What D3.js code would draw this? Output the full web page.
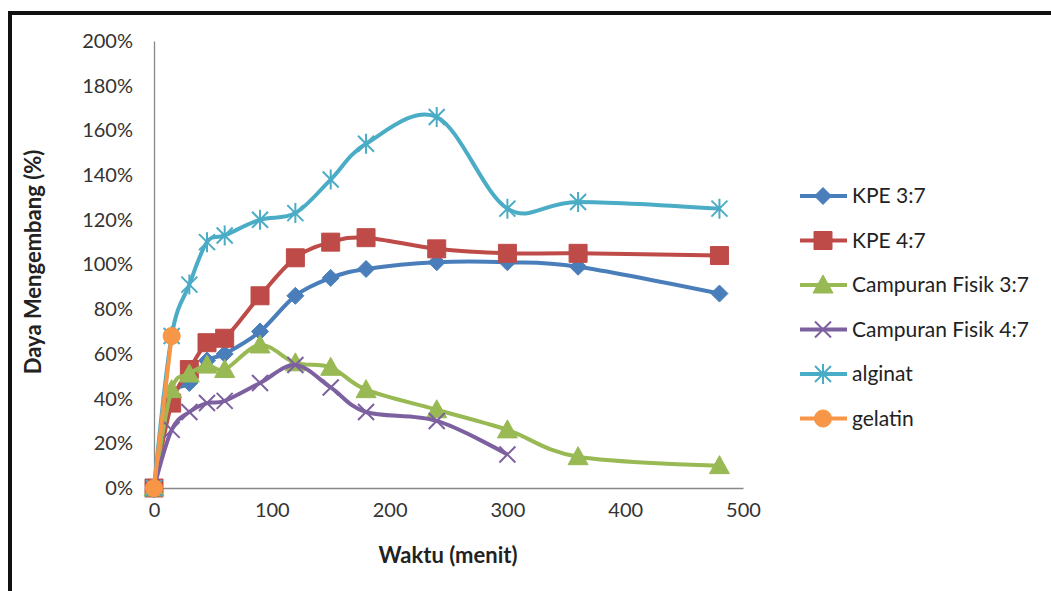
<!DOCTYPE html>
<html>
<head>
<meta charset="utf-8">
<script src="https://cdn.jsdelivr.net/npm/d3@7"></script>
<style>
  body { margin: 0; background: #fff; }
  svg { display: block; font-family: Lato, "Liberation Sans", sans-serif; }
</style>
</head>
<body>
<svg id="chart" width="1051" height="591"></svg>
<script>
// data
var times = [0, 15, 30, 45, 60, 90, 120, 150, 180, 240, 300, 360, 480];
var kpe37 = [0, 0.40, 0.47, 0.57, 0.60, 0.70, 0.86, 0.94, 0.98, 1.01, 1.01, 0.99, 0.87];
var kpe47 = [0, 0.38, 0.53, 0.65, 0.67, 0.86, 1.03, 1.10, 1.12, 1.07, 1.05, 1.05, 1.04];
var cf37 = [0, 0.44, 0.51, 0.55, 0.53, 0.64, 0.56, 0.54, 0.44, 0.35, 0.26, 0.14, 0.10];
var cf47 = [0, 0.26, 0.34, 0.38, 0.39, 0.47, 0.55, 0.45, 0.34, 0.30, 0.15];
var alginat = [0, 0.68, 0.91, 1.10, 1.13, 1.20, 1.23, 1.38, 1.54, 1.66, 1.25, 1.28, 1.25];
var gelatin = [0, 0.68];
var xTicks = [0, 100, 200, 300, 400, 500];
var yTicks = [0, 0.2, 0.4, 0.6, 0.8, 1.0, 1.2, 1.4, 1.6, 1.8, 2.0];

var series = [
  { name: "KPE 3:7", values: kpe37, color: "#4A7EBB", marker: "diamond" },
  { name: "KPE 4:7", values: kpe47, color: "#BE4B48", marker: "square" },
  { name: "Campuran Fisik 3:7", values: cf37, color: "#98B954", marker: "triangle" },
  { name: "Campuran Fisik 4:7", values: cf47, color: "#7D60A0", marker: "cross" },
  { name: "alginat", values: alginat, color: "#4BACC6", marker: "star" },
  { name: "gelatin", values: gelatin, color: "#F79646", marker: "circle" }
];

var svg = d3.select("#chart");

var x = d3.scaleLinear().domain([0, 500]).range([154, 743]);
var y = d3.scaleLinear().domain([0, 2]).range([488, 41]);

// frame
svg.append("path")
  .attr("d", "M10,591 L10,13 L1051,13")
  .attr("fill", "none")
  .attr("stroke", "#111")
  .attr("stroke-width", 4);

// axes
var xAxis = svg.append("g")
  .attr("transform", "translate(0," + y(0) + ")")
  .call(d3.axisBottom(x).tickValues(xTicks).tickSize(0).tickPadding(15));
var yAxis = svg.append("g")
  .attr("transform", "translate(" + x(0) + ",0)")
  .call(d3.axisLeft(y).tickValues(yTicks).tickSize(0).tickPadding(21)
    .tickFormat(function(d) { return Math.round(d * 100) + "%"; }));

[xAxis, yAxis].forEach(function(g) {
  g.select(".domain").attr("stroke", "#888").attr("stroke-width", 1.3);
  g.selectAll("text").attr("font-size", 20).attr("fill", "#333")
    .attr("font-family", "Lato, sans-serif");
});

svg.append("text")
  .attr("x", 448).attr("y", 563)
  .attr("text-anchor", "middle")
  .attr("font-size", 22).attr("font-weight", "bold").attr("fill", "#222")
  .text("Waktu (menit)");

svg.append("text")
  .attr("transform", "translate(41,262) rotate(-90)")
  .attr("text-anchor", "middle")
  .attr("font-size", 22).attr("font-weight", "bold").attr("fill", "#222")
  .text("Daya Mengembang (%)");

function markerPath(type) {
  if (type == "diamond") return "M0,-8.5 L8.5,0 L0,8.5 L-8.5,0 Z";
  if (type == "square") return "M-9,-9 L9,-9 L9,9 L-9,9 Z";
  if (type == "triangle") return "M0,-10 L10,8 L-10,8 Z";
  if (type == "cross") return "M-8,-8 L8,8 M-8,8 L8,-8";
  if (type == "star") return "M-8,-8 L8,8 M-8,8 L8,-8 M0,-10 L0,10";
  return d3.symbol().type(d3.symbolCircle).size(230)();
}

function drawMarker(g, s) {
  var open = (s.marker == "cross" || s.marker == "star");
  g.append("path")
    .attr("d", markerPath(s.marker))
    .attr("fill", open ? "none" : s.color)
    .attr("stroke", s.color)
    .attr("stroke-width", open ? 2 : 1);
}

var line = d3.line()
  .x(function(d) { return x(d[0]); })
  .y(function(d) { return y(d[1]); })
  .curve(d3.curveCatmullRom.alpha(0));

series.forEach(function(s) {
  var pts = s.values.map(function(v, i) { return [times[i], v]; });
  var g = svg.append("g");
  g.append("path")
    .datum(pts)
    .attr("d", line)
    .attr("fill", "none")
    .attr("stroke", s.color)
    .attr("stroke-width", 4)
    .attr("stroke-linejoin", "round");
  g.selectAll("g.pt")
    .data(pts)
  .enter().append("g")
    .attr("class", "pt")
    .attr("transform", function(d) { return "translate(" + x(d[0]) + "," + y(d[1]) + ")"; })
    .each(function() { drawMarker(d3.select(this), s); });
});

// legend
var legend = svg.append("g");
series.forEach(function(s, i) {
  var ly = 196 + i * 44.5;
  var lg = legend.append("g").attr("transform", "translate(0," + ly + ")");
  lg.append("line")
    .attr("x1", 800).attr("x2", 847)
    .attr("stroke", s.color).attr("stroke-width", 4);
  var m = lg.append("g").attr("transform", "translate(823,0)");
  drawMarker(m, s);
  lg.append("text")
    .attr("x", 852).attr("y", 7)
    .attr("font-size", 21).attr("fill", "#222")
    .text(s.name);
});
</script>
</body>
</html>
